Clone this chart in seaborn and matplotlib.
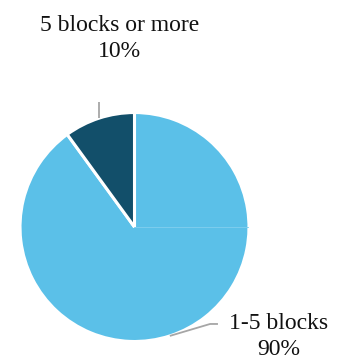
import numpy as np
import matplotlib
matplotlib.use("Agg")
import matplotlib.pyplot as plt
import seaborn as sns

# Share of trips by number of blocks walked
categories = ["1-5 blocks", "5 blocks or more"]
shares = [90, 10]
colors = ["#5BC0E8", "#124F6A"]

sns.set_theme(style="white")
plt.rcParams["font.family"] = ["Liberation Serif", "DejaVu Serif"]

fig = plt.figure(figsize=(3.39, 3.6), dpi=100)
ax = fig.add_axes([0.059, 0.0514, 0.6755, 0.636])

start = 126
wedges, _ = ax.pie(shares, colors=colors, startangle=start, counterclock=True,
                   radius=1.0,
                   wedgeprops=dict(edgecolor="white", linewidth=2.2))
# faint seam along the 3 o'clock radius
ax.plot([0, 0.995], [0, 0], color="#7dcdee", lw=0.7, zorder=3)
ax.set_xlim(-1, 1)
ax.set_ylim(-1, 1)
ax.set_aspect("equal")
ax.axis("off")

total = sum(shares)
# label placement per slice: text centre and leader-line bend points
label_pos = {
    "1-5 blocks": dict(text=(1.262, -0.955), path=[(0.66, -0.847), (0.729, -0.847)]),
    "5 blocks or more": dict(text=(-0.131, 1.645), path=[(None, 1.094)]),
}

for w, cat, val in zip(wedges, categories, shares):
    mid = np.deg2rad((w.theta1 + w.theta2) / 2)
    x0, y0 = np.cos(mid), np.sin(mid)
    spec = label_pos[cat]
    xs, ys = [x0], [y0]
    for px, py in spec["path"]:
        xs.append(x0 if px is None else px)
        ys.append(py)
    ax.plot(xs, ys, color="#A6A6A6", lw=1.3, clip_on=False, solid_capstyle="butt")
    pct = f"{val / total * 100:.0f}%"
    ax.text(spec["text"][0], spec["text"][1], f"{cat}\n{pct}", ha="center", va="center",
            fontsize=17, color="#111111", linespacing=1.32, clip_on=False)

fig.savefig("out.png", dpi=100)
